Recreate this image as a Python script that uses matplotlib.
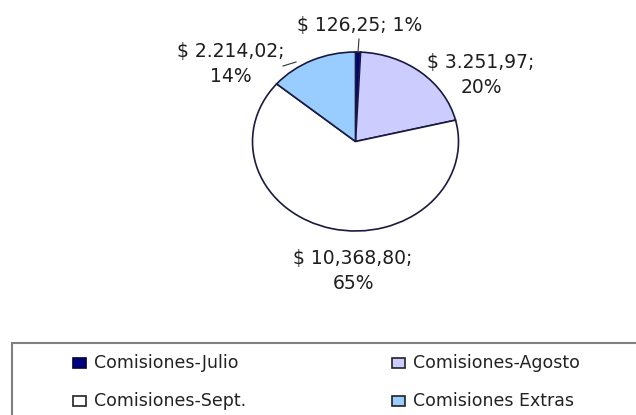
import matplotlib.pyplot as plt
from matplotlib.patches import Rectangle
from matplotlib.lines import Line2D

W, H = 636, 415

# data
labels = ['Comisiones-Julio', 'Comisiones-Agosto', 'Comisiones-Sept.', 'Comisiones Extras']
values = [126.25, 3251.97, 10368.80, 2214.02]
value_text = ['$ 126,25; 1%', '$ 3.251,97;\n20%', '$ 10,368,80;\n65%', '$ 2.214,02;\n14%']
colors = ['#000080', '#ccccff', '#ffffff', '#99ccff']


def fx(x):
    return x / W


def fy(y):
    return 1 - y / H


fig = plt.figure(figsize=(W / 100, H / 100), dpi=100)
fig.patch.set_facecolor('white')

# pie is a bit squashed in the reference, so use a non-square axes
ax = fig.add_axes([fx(252.5), fy(231), 206 / W, 179 / H])
wedges, _ = ax.pie(values, colors=colors, startangle=90, counterclock=False,
                   wedgeprops=dict(edgecolor='#1a1a40', linewidth=1.2))
ax.set_aspect('auto')
ax.set_xlim(-1, 1)
ax.set_ylim(-1, 1)
ax.axis('off')

# value labels
label_pos = [(360, 25), (481, 75), (353, 271), (231, 64)]
for txt, (x, y) in zip(value_text, label_pos):
    fig.text(fx(x), fy(y), txt, ha='center', va='center', fontsize=13.5,
             color='#1e1e1e', linespacing=1.4)

# leader lines
fig.add_artist(Line2D([fx(359), fx(358)], [fy(39), fy(52)], color='#333333', lw=0.8))
fig.add_artist(Line2D([fx(283), fx(296)], [fy(66), fy(62)], color='#333333', lw=0.8))

# legend box (runs off the right and bottom edges)
fig.add_artist(Rectangle((fx(11.5), fy(430)), fx(640) - fx(11.5), fy(343) - fy(430),
                         transform=fig.transFigure, facecolor='none',
                         edgecolor='#808080', lw=1.5))

col_x = [73, 392]
row_y = [363, 401]
for i, (lab, c) in enumerate(zip(labels, colors)):
    x = col_x[i % 2]
    y = row_y[i // 2]
    fig.add_artist(Rectangle((fx(x), fy(y + 5)), 13 / W, 10 / H,
                             transform=fig.transFigure, facecolor=c,
                             edgecolor='#222222' if i else '#000040', lw=1.2))
    fig.text(fx(x + 21), fy(y), lab, ha='left', va='center', fontsize=12.5,
             color='#222222')

fig.savefig('out.png', dpi=100, facecolor='white')
